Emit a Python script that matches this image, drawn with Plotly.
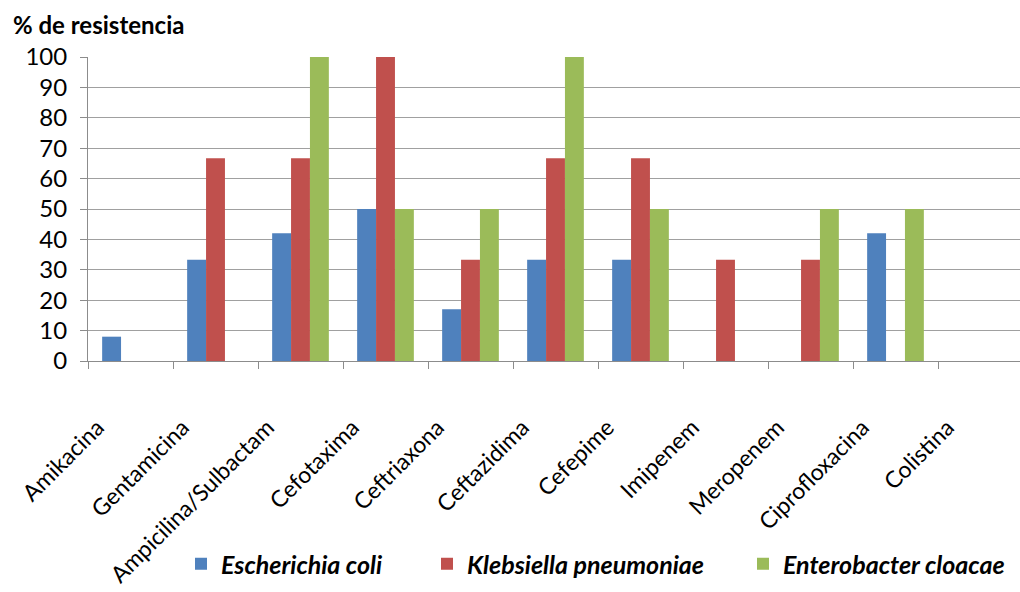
import plotly.graph_objects as go

antibiotics = ["Amikacina", "Gentamicina", "Ampicilina/Sulbactam", "Cefotaxima",
               "Ceftriaxona", "Ceftazidima", "Cefepime", "Imipenem",
               "Meropenem", "Ciprofloxacina", "Colistina"]

e_coli = [8, 33.3, 42, 50, 17, 33.3, 33.3, None, None, 42, None]
k_pneumoniae = [None, 66.7, 66.7, 100, 33.3, 66.7, 66.7, 33.3, 33.3, None, None]
e_cloacae = [None, None, 100, 50, 50, 100, 50, None, 50, 50, None]

series_names = ["Escherichia coli", "Klebsiella pneumoniae", "Enterobacter cloacae"]
series_colors = ["#4F81BD", "#C0504D", "#9BBB59"]
y_ticks = list(range(0, 101, 10))

FONT = "Lato, 'Open Sans', sans-serif"
ML, MR, MT, MB = 88, 0, 57, 231
PLOT_W = 1020 - ML - MR
PLOT_H = 592 - MT - MB

# the category axis runs a little past the right edge of the figure
x_end = -0.5 + PLOT_W / 85.0

legend_keys = ["legend", "legend2", "legend3"]
legend_left_px = [181, 427, 743]

fig = go.Figure()
for name, vals, col, lg in zip(series_names, [e_coli, k_pneumoniae, e_cloacae],
                               series_colors, legend_keys):
    fig.add_trace(go.Bar(
        x=antibiotics, y=vals, name=f"<b><i>{name}</i></b>",
        marker=dict(color=col, line=dict(width=0)), legend=lg,
    ))

legend_layout = {}
for lg, px in zip(legend_keys, legend_left_px):
    legend_layout[lg] = dict(
        orientation="h", x=(px - ML) / PLOT_W, xanchor="left",
        y=-(564 - (MT + PLOT_H)) / PLOT_H, yanchor="middle",
        font=dict(family=FONT, size=25, color="black"),
        itemwidth=30, bgcolor="rgba(0,0,0,0)",
    )

fig.update_layout(
    width=1020, height=592,
    margin=dict(l=ML, r=MR, t=MT, b=MB, autoexpand=False),
    paper_bgcolor="white", plot_bgcolor="white",
    barmode="group", bargap=0.333, bargroupgap=0,
    font=dict(family=FONT, size=20, color="black"),
    showlegend=True,
    annotations=[dict(
        text="<b>% de resistencia</b>", xref="paper", yref="paper",
        x=(11 - ML) / PLOT_W, y=1 + (MT - 24) / PLOT_H, xanchor="left", yanchor="middle",
        showarrow=False, font=dict(family=FONT, size=24, color="black"),
    )],
    **legend_layout,
)

fig.update_xaxes(
    type="category", range=[-0.5, x_end], tickangle=-45, tickson="boundaries",
    ticks="outside", ticklen=7, tickcolor="#8c8c8c",
    ticklabelstandoff=43, ticklabelshift=-33, automargin=False,
    showline=True, linecolor="#8c8c8c", linewidth=1,
    showgrid=False, tickfont=dict(family=FONT, size=23, color="black"),
)
fig.update_yaxes(
    range=[0, 100], tickvals=y_ticks, ticks="outside", ticklen=7,
    ticklabelstandoff=8, automargin=False,
    tickcolor="#8c8c8c", showline=True, linecolor="#8c8c8c", linewidth=1,
    showgrid=True, gridcolor="#a0a0a0", gridwidth=1, zeroline=False,
    tickfont=dict(family=FONT, size=24, color="black"),
)

fig.write_html("out.html")
